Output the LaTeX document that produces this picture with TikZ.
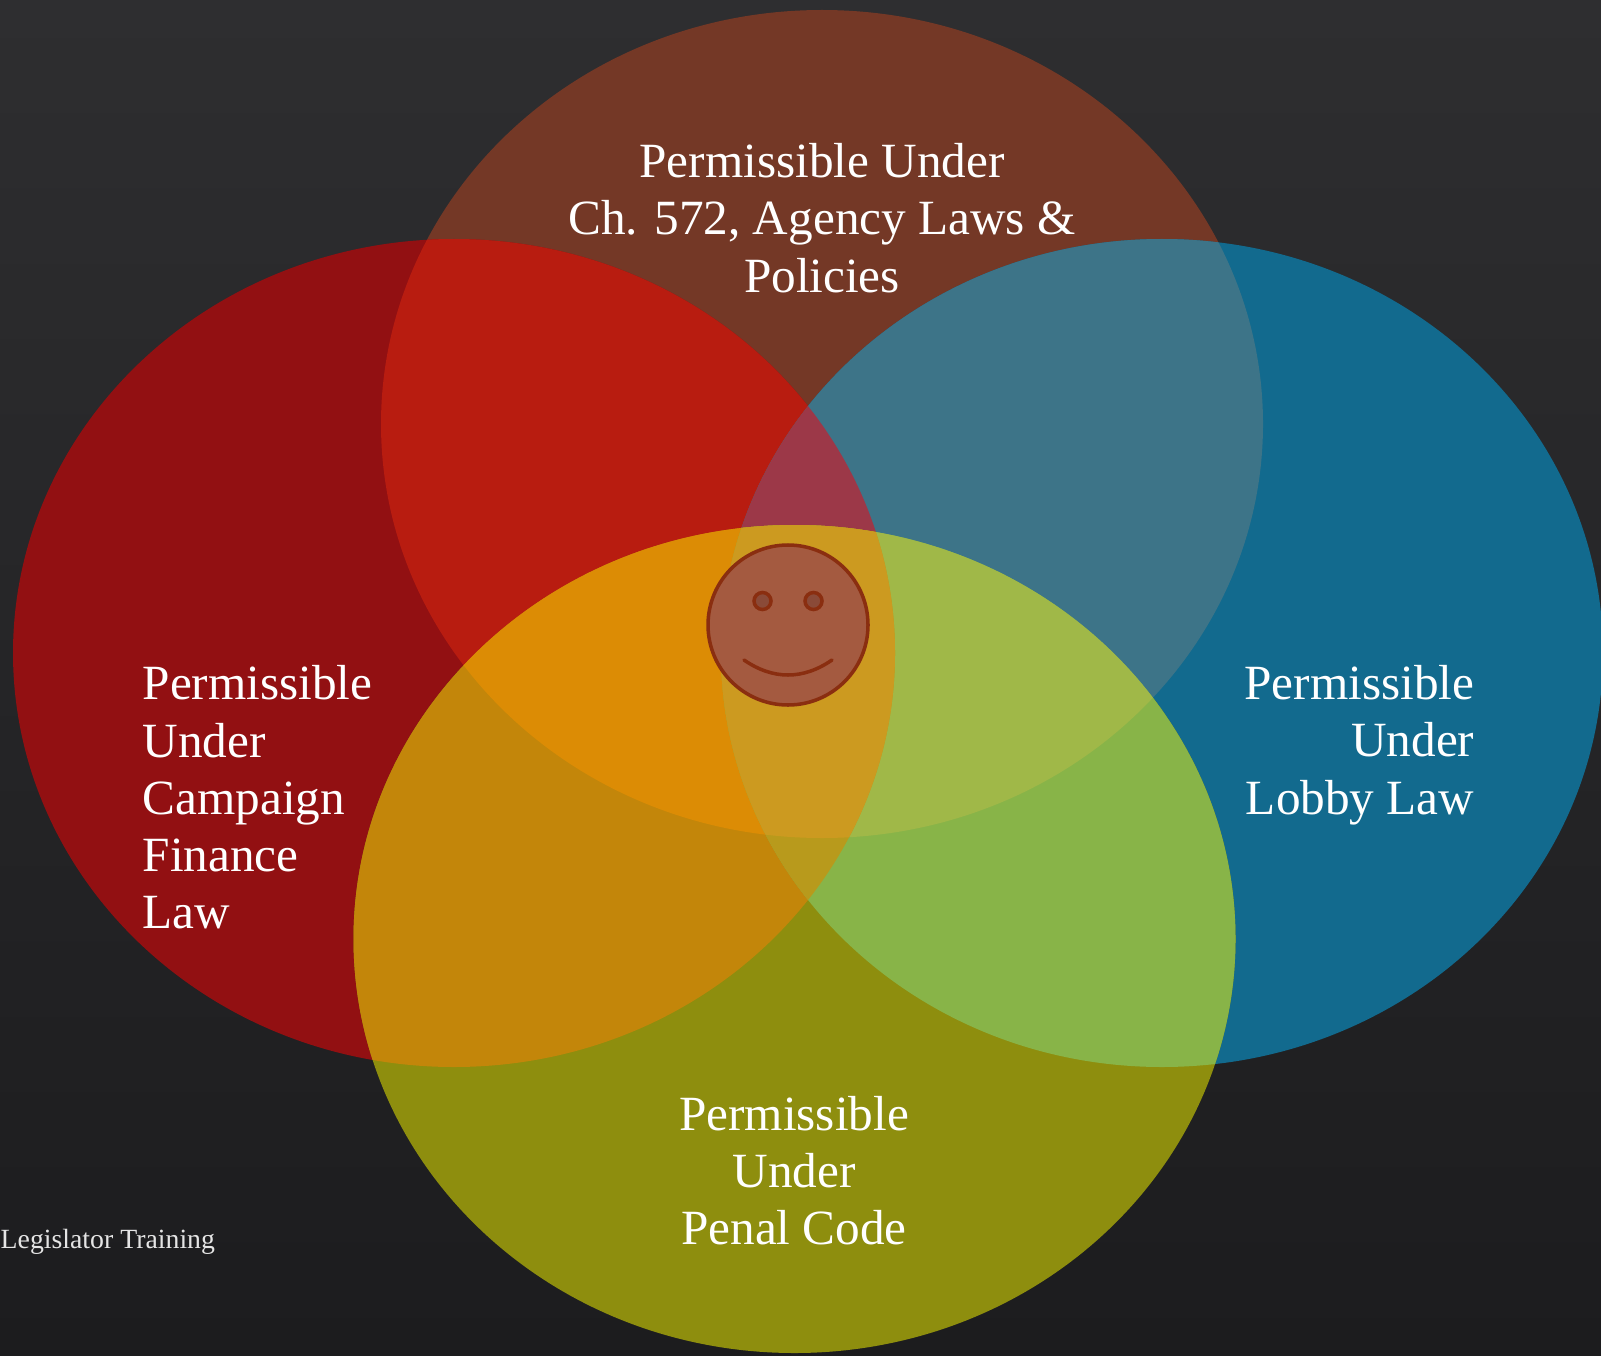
\documentclass[tikz,border=0pt]{standalone}
\usepackage{fontspec}
\setmainfont{Liberation Serif}
\definecolor{bgtop}{HTML}{2E2E30}
\definecolor{bgbottom}{HTML}{1C1C1E}
\definecolor{oT}{HTML}{743826}
\definecolor{oL}{HTML}{921012}
\definecolor{oR}{HTML}{126A8E}
\definecolor{oB}{HTML}{8E8E0E}
\definecolor{oTL}{HTML}{B81C10}
\definecolor{oTR}{HTML}{3D7488}
\definecolor{oLB}{HTML}{C3860A}
\definecolor{oRB}{HTML}{88B448}
\definecolor{oTLR}{HTML}{9C3848}
\definecolor{oTLB}{HTML}{DC8C05}
\definecolor{oTRB}{HTML}{A0B848}
\definecolor{oLRB}{HTML}{B89A1C}
\definecolor{oTLRB}{HTML}{CC9A20}
\definecolor{faceline}{HTML}{8A2E10}
\definecolor{facefill}{HTML}{A45A40}
\definecolor{eyefill}{HTML}{8A4A38}
\newcommand{\ovaltop}{(822,424) ellipse (441 and 414)}
\newcommand{\ovalleft}{(454,653) ellipse (441 and 414)}
\newcommand{\ovalright}{(1162,653) ellipse (441 and 414)}
\newcommand{\ovalbottom}{(794.5,939) ellipse (441 and 414)}
\tikzset{
  lawtext/.style={text=white, inner sep=0pt, font=\fontsize{14}{16.3}\selectfont},
  face/.style={circle, draw=faceline, fill=facefill, line width=1pt, inner sep=0pt, minimum size=160*0.01cm},
  eye/.style={circle, draw=faceline, fill=eyefill, line width=1pt, inner sep=0pt, minimum size=17*0.01cm}
}

\begin{document}
\begin{tikzpicture}[x=0.01cm, y=-0.01cm]
  \useasboundingbox (0,0) rectangle (1601,1355);
  \clip (0,0) rectangle (1601,1355);
  \shade[top color=bgtop, bottom color=bgbottom] (0,0) rectangle (1601,1355);
  % single ovals
  \fill[oT] \ovaltop;
  \fill[oL] \ovalleft;
  \fill[oR] \ovalright;
  \fill[oB] \ovalbottom;
  % overlaps of two
  \begin{scope} \clip \ovaltop; \fill[oTL] \ovalleft; \end{scope}
  \begin{scope} \clip \ovaltop; \fill[oTR] \ovalright; \end{scope}
  \begin{scope} \clip \ovalleft; \fill[oLB] \ovalbottom; \end{scope}
  \begin{scope} \clip \ovalright; \fill[oRB] \ovalbottom; \end{scope}
  % overlaps of three
  \begin{scope} \clip \ovaltop; \clip \ovalleft; \fill[oTLR] \ovalright; \end{scope}
  \begin{scope} \clip \ovaltop; \clip \ovalleft; \fill[oTLB] \ovalbottom; \end{scope}
  \begin{scope} \clip \ovaltop; \clip \ovalright; \fill[oTRB] \ovalbottom; \end{scope}
  \begin{scope} \clip \ovalleft; \clip \ovalright; \fill[oLRB] \ovalbottom; \end{scope}
  % all four
  \begin{scope} \clip \ovaltop; \clip \ovalleft; \clip \ovalright; \fill[oTLRB] \ovalbottom; \end{scope}
  % labels
  \node[lawtext, align=center] (agency) at (822,218) {Permissible Under \\ Ch. 572, Agency Laws \& \\ Policies};
  \node[lawtext, align=left, anchor=west] (campaign) at (142,797.5) {Permissible \\ Under \\ Campaign \\ Finance \\ Law};
  \node[lawtext, align=right, anchor=east] (lobby) at (1475,745) {Permissible \\ Under \\ Lobby Law};
  \node[lawtext, align=center] (penal) at (794,1170.5) {Permissible \\ Under \\ Penal Code};
  \node[text=white!90!black, inner sep=0pt, anchor=base west, font=\fontsize{7.9}{10}\selectfont] (training) at (0,1248) {Legislator Training};
  % smiley
  \node[face] (head) at (788,625) {};
  \node[eye] (lefteye) at (762.5,601) {};
  \node[eye] (righteye) at (813.5,601) {};
  \coordinate (smilestart) at (744,660);
  \coordinate (smileend) at (832,660);
  \draw[faceline, line width=1pt, line cap=round] (smilestart) .. controls (773,680) and (803,680) .. (smileend);
\end{tikzpicture}
\end{document}
